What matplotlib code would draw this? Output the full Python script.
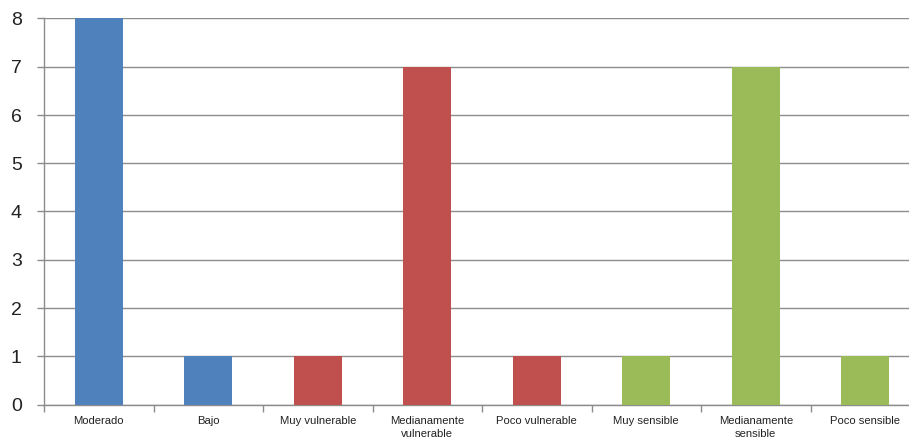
import numpy as np
import matplotlib.pyplot as plt

categories = ["Moderado", "Bajo", "Muy vulnerable", "Medianamente\nvulnerable",
              "Poco vulnerable", "Muy sensible", "Medianamente\nsensible", "Poco sensible"]
values = [8, 1, 1, 7, 1, 1, 7, 1]
groups = ["blue", "blue", "red", "red", "red", "green", "green", "green"]
palette = {"blue": "#4F81BD", "red": "#C0504D", "green": "#9BBB59"}

fig = plt.figure(figsize=(9.09, 4.44), dpi=100)
# axes runs a little past the right edge, as in the original
ax = fig.add_axes([44 / 909, 39.5 / 444, 876 / 909, 386 / 444])

x = np.arange(len(categories))
ax.bar(x, values, width=0.44, color=[palette[g] for g in groups], zorder=3)

ax.set_xlim(-0.5, len(categories) - 0.5)
ax.set_ylim(0, 8)
ax.set_yticks(range(0, 9))
ax.yaxis.grid(True, color="#8c8c8c", linewidth=1.0, zorder=0)

ax.set_xticks(x)
ax.set_xticklabels(categories, fontsize=8.1, color="#222222", family="Liberation Sans",
                   linespacing=1.45)
ax.set_xticks(np.arange(-0.5, len(categories) - 0.4, 1), minor=True)
ax.tick_params(axis="x", which="major", length=0, pad=8)
ax.tick_params(axis="x", which="minor", length=5, color="#8c8c8c", width=1)
ax.tick_params(axis="y", length=5, color="#8c8c8c", width=1, pad=11, labelsize=14)
for lab in ax.get_yticklabels():
    lab.set_family("Liberation Sans")
    lab.set_color("#222222")

for s in ["top", "right"]:
    ax.spines[s].set_visible(False)
for s in ["left", "bottom"]:
    ax.spines[s].set_color("#8c8c8c")
    ax.spines[s].set_linewidth(1)

fig.savefig("out.png", dpi=100)
